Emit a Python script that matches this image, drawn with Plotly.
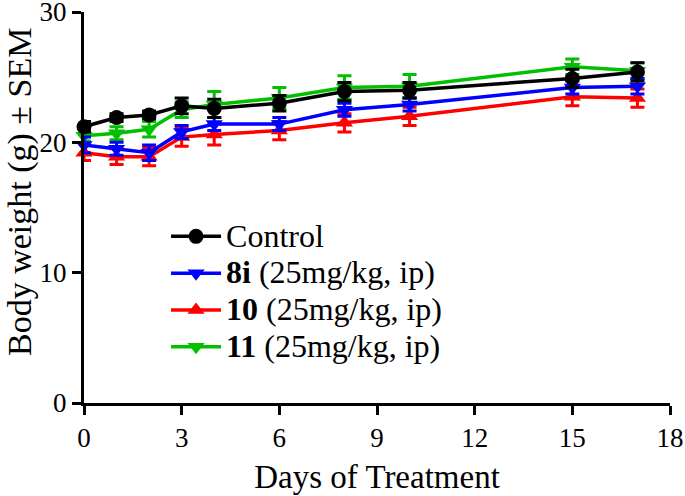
import plotly.graph_objects as go

days = [0, 1, 2, 3, 4, 6, 8, 10, 15, 17]

control = [21.2, 21.9, 22.1, 22.8, 22.6, 23.0, 23.9, 24.0, 24.9, 25.4]
control_sem = [0.4, 0.3, 0.3, 0.6, 0.7, 0.6, 0.7, 0.6, 0.7, 0.7]

cmp_8i = [19.8, 19.5, 19.2, 20.8, 21.4, 21.4, 22.5, 22.9, 24.2, 24.3]
cmp_8i_sem = [0.6, 0.5, 0.6, 0.5, 0.5, 0.5, 0.5, 0.5, 0.5, 0.6]

cmp_10 = [19.2, 18.9, 18.9, 20.4, 20.6, 20.9, 21.5, 22.0, 23.5, 23.4]
cmp_10_sem = [0.6, 0.6, 0.7, 0.7, 0.8, 0.7, 0.7, 0.7, 0.7, 0.7]

cmp_11 = [20.5, 20.7, 21.0, 22.5, 22.9, 23.4, 24.2, 24.3, 25.8, 25.5]
cmp_11_sem = [0.4, 0.5, 0.6, 0.6, 1.0, 0.8, 0.9, 0.9, 0.6, 0.6]

FONT = "Liberation Serif, Times New Roman, serif"


def big(text):
    # legend rows are spaced by the legend font size, text drawn larger
    return f'<span style="font-size:32px">{text}</span>'


# drawn bottom-up so Control ends on top; legend reversed to match
series = [
    (big("<b>11</b> (25mg/kg, ip)"), cmp_11, cmp_11_sem, "#00C000", "triangle-down"),
    (big("<b>10</b> (25mg/kg, ip)"), cmp_10, cmp_10_sem, "#FF0000", "triangle-up"),
    (big("<b>8i</b> (25mg/kg, ip)"), cmp_8i, cmp_8i_sem, "#0000FF", "triangle-down"),
    (big("Control"), control, control_sem, "#000000", "circle"),
]

fig = go.Figure()
for name, vals, sem, color, symbol in series:
    fig.add_trace(go.Scatter(
        x=days,
        y=vals,
        name=name,
        mode="lines+markers",
        line=dict(color=color, width=3.5),
        marker=dict(color=color, symbol=symbol, size=15),
        error_y=dict(type="data", array=sem, color=color, thickness=3, width=7),
        cliponaxis=False,
    ))

fig.add_annotation(
    text="Body weight (g) ± SEM",
    xref="paper", yref="paper", x=-0.109, y=0.54,
    xanchor="center", yanchor="middle",
    textangle=-90, showarrow=False,
    font=dict(family=FONT, size=34, color="black"),
)

fig.update_layout(
    width=685,
    height=496,
    margin=dict(l=84, r=15, t=12, b=93),
    plot_bgcolor="white",
    paper_bgcolor="white",
    font=dict(family=FONT, color="black", size=27),
    showlegend=True,
    legend=dict(
        x=0.14, y=0.486, xanchor="left", yanchor="top",
        traceorder="reversed",
        itemwidth=50,
        font=dict(family=FONT, size=26, color="black"),
        bgcolor="rgba(0,0,0,0)",
    ),
    xaxis=dict(
        range=[0, 18],
        tickvals=[0, 3, 6, 9, 12, 15, 18],
        showgrid=False, zeroline=False, automargin=False,
        ticklabeloverflow="allow",
        showline=True, linecolor="black", linewidth=3,
        ticks="outside", ticklen=9, tickwidth=3, tickcolor="black",
        tickfont=dict(size=27),
        title=dict(text="Days of Treatment", font=dict(size=33), standoff=13),
    ),
    yaxis=dict(
        range=[0, 30],
        tickvals=[0, 10, 20, 30],
        showgrid=False, zeroline=False, automargin=False,
        ticklabeloverflow="allow",
        showline=True, linecolor="black", linewidth=3,
        ticks="outside", ticklen=9, tickwidth=3, tickcolor="black",
        tickfont=dict(size=27),
    ),
)

# drop the page's default body margin so the figure fills the window
fig.write_html(
    "out.html",
    config={"displayModeBar": False},
    post_script="document.body.style.margin = '0';",
)
